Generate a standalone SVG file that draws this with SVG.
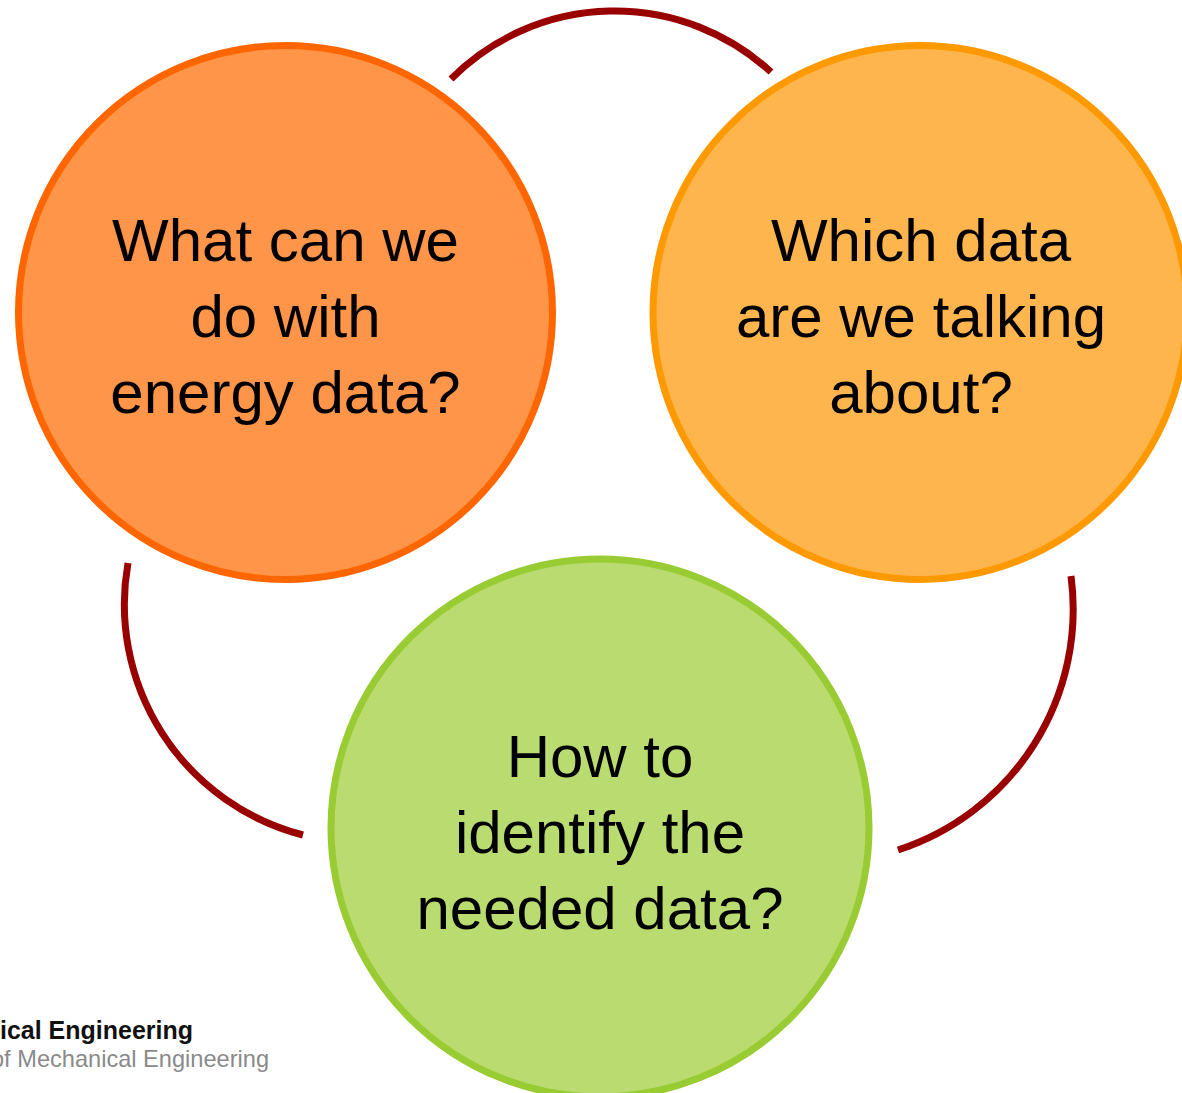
<svg xmlns="http://www.w3.org/2000/svg" width="1182" height="1093" viewBox="0 0 1182 1093">
<style>
.arc{fill:none;stroke:#990000;stroke-width:7;stroke-linecap:butt}
.lbl{font-family:"Liberation Sans",Arial,sans-serif;font-size:60px;fill:#000;text-anchor:middle}
.c1{fill:#FF9549;stroke:#FF6600;stroke-width:7}
.c2{fill:#FFB54D;stroke:#FF9900;stroke-width:7}
.c3{fill:#B9DB6F;stroke:#99CC33;stroke-width:7}
.foot{font-family:"Liberation Sans",Arial,sans-serif}
</style>
<rect width="1182" height="1093" fill="#fff"/>
<g id="connectors">
<path class="arc" d="M 451 79 A 231 231 0 0 1 771 72"/>
<path class="arc" d="M 128 563 A 238 238 0 0 0 303 835"/>
<path class="arc" d="M 1071 576 A 253 253 0 0 1 898 850"/>
</g>
<g id="node-left">
<circle class="c1" cx="285.5" cy="312.5" r="267"/>
<text class="lbl" x="285.5" y="261">What can we</text>
<text class="lbl" x="285.5" y="337">do with</text>
<text class="lbl" x="285.5" y="413">energy data?</text>
</g>
<g id="node-right">
<circle class="c2" cx="920" cy="312.5" r="267"/>
<text class="lbl" x="921" y="261">Which data</text>
<text class="lbl" x="921" y="337">are we talking</text>
<text class="lbl" x="921" y="413">about?</text>
</g>
<g id="node-bottom">
<circle class="c3" cx="600" cy="828" r="269"/>
<text class="lbl" x="600" y="777">How to</text>
<text class="lbl" x="600" y="853">identify the</text>
<text class="lbl" x="600" y="929">needed data?</text>
</g>
<g id="footer">
<text class="foot" x="0" y="1039" font-size="25" font-weight="bold" fill="#111" textLength="193" lengthAdjust="spacingAndGlyphs">ical Engineering</text>
<text class="foot" x="-9" y="1067" font-size="24" fill="#8a8a8a" textLength="278" lengthAdjust="spacingAndGlyphs">of Mechanical Engineering</text>
</g>
</svg>
